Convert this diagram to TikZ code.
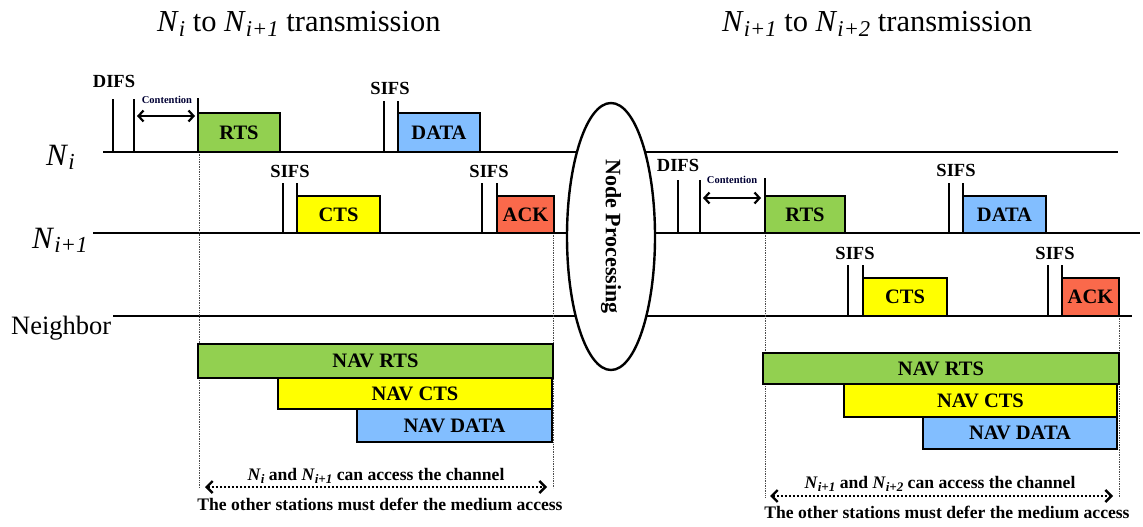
\documentclass[tikz,border=0pt]{standalone}
\usepackage{fontspec}
\setmainfont{Liberation Serif}
\usetikzlibrary{arrows.meta,shapes.geometric}
\definecolor{pktgreen}{RGB}{146,208,80}
\definecolor{pktyellow}{RGB}{255,255,0}
\definecolor{pktblue}{RGB}{130,190,255}
\definecolor{pktred}{RGB}{250,105,75}
% station name with an italic subscript
\newcommand\Nx[1]{\textit{N}\raisebox{-0.32ex}{\scalebox{0.74}{\itshape #1}}}
\tikzset{
  axis/.style={line width=2.6pt},
  tickline/.style={line width=2.6pt},
  pkt/.style 2 args={draw, line width=2.6pt, inner sep=0pt, outer sep=0pt,
    anchor=north west, minimum width=#1, minimum height=#2,
    font=\fontsize{20.5}{21}\selectfont\bfseries},
  ifs/.style={anchor=base, inner sep=0pt, font=\fontsize{18.5}{18}\selectfont\bfseries},
  contlbl/.style={inner sep=0pt, font=\fontsize{10.5}{10}\selectfont\bfseries, text=black!80!blue},
  contarrow/.style={line width=2.2pt, {Straight Barb[length=5pt,width=11pt]}-{Straight Barb[length=5pt,width=11pt]}},
  guide/.style={line width=0.7pt, densely dotted, black!70},
  access/.style={line width=2.4pt, dash pattern=on 2pt off 2pt,
    {Straight Barb[length=6pt,width=12pt]}-{Straight Barb[length=6pt,width=12pt]}},
  note/.style={inner sep=0pt, font=\fontsize{17.6}{17}\selectfont\bfseries},
  title/.style={anchor=base west, inner sep=0pt, font=\fontsize{30.5}{30}\selectfont},
}
\begin{document}
\begin{tikzpicture}[x=1pt,y=-1pt]
\useasboundingbox (0,0) rectangle (1143,527);

% titles
\node[title] (title1) at (157,32) {\Nx{i} to \Nx{i+1} transmission};
\node[title] (title2) at (722,32) {\Nx{i+1} to \Nx{i+2} transmission};

% station labels
\node[anchor=base west, inner sep=0pt, font=\fontsize{31}{31}\selectfont] (lblNi) at (46,165) {\Nx{i}};
\node[anchor=base west, inner sep=0pt, font=\fontsize{31}{31}\selectfont] (lblNj) at (32,248) {\Nx{i+1}};
\node[anchor=base west, inner sep=0pt, font=\fontsize{26.5}{26}\selectfont] (lblNb) at (11,334) {Neighbor};

% time axes
\coordinate (aiS) at (103,152);  \coordinate (aiE) at (1118,152);
\coordinate (ajS) at (93,233);   \coordinate (ajE) at (1140,233);
\coordinate (abS) at (113,316);  \coordinate (abE) at (1132,316);
\draw[axis] (aiS) -- (aiE);
\draw[axis] (ajS) -- (ajE);
\draw[axis] (abS) -- (abE);

% guide lines marking the reserved period
\draw[guide] (199,152) -- (199,488);
\draw[guide] (553,233) -- (553,488);
\draw[guide] (765,233) -- (765,497);
\draw[guide] (1119,316) -- (1119,497);

% ---------- first exchange ----------
\draw[tickline] (113,152) -- (113,99);
\draw[tickline] (134,152) -- (134,99);
\node[ifs] (difsA) at (114,88) {DIFS};
\node[pkt={82pt}{39pt}, fill=pktgreen] (rtsA) at (198,113) {RTS};
\draw[tickline] (rtsA.north west) -- ++(0,-15);
\coordinate (cAs) at (137,116); \coordinate (cAe) at (195,116);
\draw[contarrow] (cAs) -- (cAe);
\node[contlbl] (contA) at (167,100) {Contention};

\draw[tickline] (384,152) -- (384,101);
\node[ifs] (sifsA1) at (390,94) {SIFS};
\node[pkt={82pt}{39pt}, fill=pktblue] (dataA) at (398,113) {DATA};
\draw[tickline] (dataA.north west) -- ++(0,-12);

\draw[tickline] (283,233) -- (283,183);
\node[ifs] (sifsA2) at (290,177) {SIFS};
\node[pkt={83pt}{37pt}, fill=pktyellow] (ctsA) at (297,196) {CTS};
\draw[tickline] (ctsA.north west) -- ++(0,-13);

\draw[tickline] (482,233) -- (482,183);
\node[ifs] (sifsA3) at (489,177) {SIFS};
\node[pkt={57pt}{37pt}, fill=pktred] (ackA) at (497,196) {ACK};
\draw[tickline] (ackA.north west) -- ++(0,-13);

\node[pkt={355pt}{34pt}, fill=pktgreen] (navrA) at (198,344) {NAV RTS};
\node[pkt={274pt}{31pt}, fill=pktyellow] (navcA) at (278,378) {NAV CTS};
\node[pkt={195pt}{33pt}, fill=pktblue] (navdA) at (357,409) {NAV DATA};

\coordinate (accAs) at (205,487); \coordinate (accAe) at (547,487);
\draw[access] (accAs) -- (accAe);
\node[note] (noteA1) at (376,476) {\Nx{i} and \Nx{i+1} can access the channel};
\node[note] (noteA2) at (380,504) {The other stations must defer the medium access};

% ---------- second exchange ----------
\draw[tickline] (678,233) -- (678,180);
\draw[tickline] (700,233) -- (700,180);
\node[ifs] (difsB) at (678,171) {DIFS};
\node[pkt={80pt}{37pt}, fill=pktgreen] (rtsB) at (765,196) {RTS};
\draw[tickline] (rtsB.north west) -- ++(0,-18);
\coordinate (cBs) at (703,198); \coordinate (cBe) at (761,198);
\draw[contarrow] (cBs) -- (cBe);
\node[contlbl] (contB) at (732,180) {Contention};

\draw[tickline] (949,233) -- (949,183);
\node[ifs] (sifsB1) at (956,176) {SIFS};
\node[pkt={83pt}{37pt}, fill=pktblue] (dataB) at (963,196) {DATA};
\draw[tickline] (dataB.north west) -- ++(0,-13);

\draw[tickline] (848,316) -- (848,265);
\node[ifs] (sifsB2) at (855,259) {SIFS};
\node[pkt={84pt}{38pt}, fill=pktyellow] (ctsB) at (863,278) {CTS};
\draw[tickline] (ctsB.north west) -- ++(0,-13);

\draw[tickline] (1048,316) -- (1048,265);
\node[ifs] (sifsB3) at (1055,259) {SIFS};
\node[pkt={57pt}{38pt}, fill=pktred] (ackB) at (1062,278) {ACK};
\draw[tickline] (ackB.north west) -- ++(0,-13);

\node[pkt={356pt}{31pt}, fill=pktgreen] (navrB) at (763,353) {NAV RTS};
\node[pkt={273pt}{33pt}, fill=pktyellow] (navcB) at (844,384) {NAV CTS};
\node[pkt={194pt}{32pt}, fill=pktblue] (navdB) at (923,417) {NAV DATA};

\coordinate (accBs) at (770,496); \coordinate (accBe) at (1113,496);
\draw[access] (accBs) -- (accBe);
\node[note] (noteB1) at (940,484) {\Nx{i+1} and \Nx{i+2} can access the channel};
\node[note] (noteB2) at (947,512) {The other stations must defer the medium access};

% processing step between the two exchanges
\node[ellipse, draw, line width=2.4pt, fill=white, inner sep=0pt,
      minimum width=88pt, minimum height=267pt] (proc) at (611,236.5)
      {\rotatebox{-90}{\fontsize{22}{22}\selectfont\bfseries Node Processing}};
\end{tikzpicture}
\end{document}
